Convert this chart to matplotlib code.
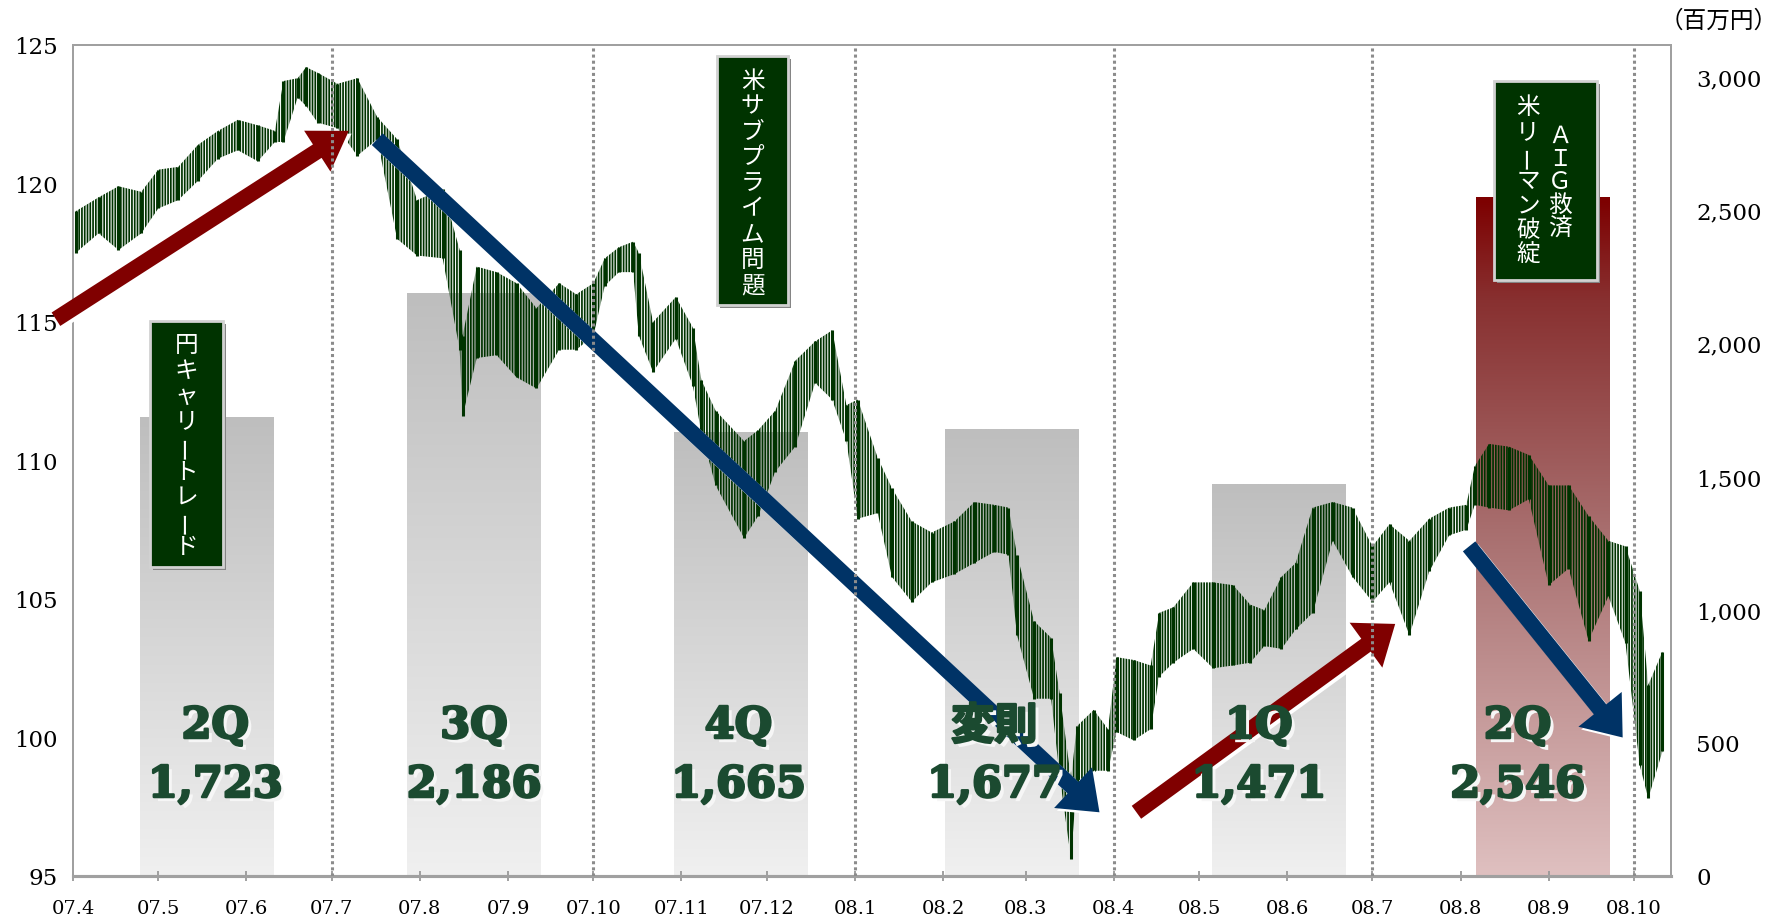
import numpy as np
import pandas as pd
import matplotlib
matplotlib.use("Agg")
import matplotlib.pyplot as plt
import matplotlib.dates as mdates
import matplotlib.patheffects as pe
from matplotlib.colors import LinearSegmentedColormap
from matplotlib.patches import Rectangle
from matplotlib.ticker import FuncFormatter
from matplotlib.transforms import offset_copy, blended_transform_factory

plt.rcParams['font.family'] = ['DejaVu Serif', 'Noto Sans CJK JP']
plt.rcParams['hatch.linewidth'] = 1.25
plt.rcParams['hatch.color'] = '#003300'

# quarterly amounts (百万円), right axis
quarters = ['2Q', '3Q', '4Q', '変則', '1Q', '2Q']
amounts = [1723, 2186, 1665, 1677, 1471, 2546]
amount_labels = ['1,723', '2,186', '1,665', '1,677', '1,471', '2,546']
bar_centers = ['2007-05-18', '2007-08-20', '2007-11-22', '2008-02-25', '2008-05-29', '2008-08-30']
label_centers = ['2007-05-21', '2007-08-20', '2007-11-21', '2008-02-19', '2008-05-22', '2008-08-21']

# weekly price range (left axis)
price_dates = ['2007-04-02', '2007-04-10', '2007-04-17', '2007-04-25', '2007-05-01', '2007-05-08',
               '2007-05-15', '2007-05-22', '2007-05-29', '2007-06-05', '2007-06-11', '2007-06-14',
               '2007-06-19', '2007-06-22', '2007-06-26', '2007-07-03', '2007-07-10', '2007-07-17',
               '2007-07-24', '2007-07-31', '2007-08-09', '2007-08-15', '2007-08-16', '2007-08-21',
               '2007-08-28', '2007-09-04', '2007-09-11', '2007-09-19', '2007-09-25', '2007-10-01',
               '2007-10-05', '2007-10-10', '2007-10-15', '2007-10-17', '2007-10-22', '2007-10-30',
               '2007-11-05', '2007-11-08', '2007-11-13', '2007-11-23', '2007-11-28', '2007-12-04',
               '2007-12-11', '2007-12-18', '2007-12-24', '2007-12-29', '2008-01-02', '2008-01-09',
               '2008-01-14', '2008-01-21', '2008-01-28', '2008-02-05', '2008-02-12', '2008-02-19',
               '2008-02-24', '2008-02-27', '2008-03-04', '2008-03-10', '2008-03-13', '2008-03-17',
               '2008-03-19', '2008-03-25', '2008-03-30', '2008-04-02', '2008-04-08', '2008-04-14',
               '2008-04-17', '2008-04-22', '2008-04-29', '2008-05-06', '2008-05-13', '2008-05-19',
               '2008-05-24', '2008-05-30', '2008-06-04', '2008-06-10', '2008-06-17', '2008-06-24',
               '2008-07-01', '2008-07-07', '2008-07-14', '2008-07-21', '2008-07-28', '2008-08-03',
               '2008-08-06', '2008-08-11', '2008-08-18', '2008-08-25', '2008-09-01', '2008-09-08',
               '2008-09-15', '2008-09-22', '2008-09-28', '2008-10-03', '2008-10-06', '2008-10-11']
price_low = [117.5, 118.2, 117.6, 118.2, 119.1, 119.4, 120.1, 120.9, 121.2, 120.8, 121.5, 121.5,
             123.1, 122.8, 122.2, 122.0, 121.0, 121.6, 118.0, 117.4, 117.3, 114.0, 111.6, 113.7,
             113.8, 113.0, 112.6, 114.0, 114.0, 114.5, 116.3, 116.8, 116.8, 114.5, 113.2, 114.4,
             112.7, 111.0, 109.1, 107.2, 108.0, 109.6, 110.5, 112.8, 112.2, 110.7, 107.9, 108.1,
             105.8, 104.9, 105.6, 105.9, 106.3, 106.7, 106.6, 103.7, 101.4, 101.4, 98.6, 95.6,
             98.4, 98.8, 98.8, 100.2, 99.9, 100.3, 102.2, 102.7, 103.2, 102.5, 102.6, 102.7,
             103.3, 103.2, 103.9, 104.5, 107.1, 105.8, 104.9, 105.6, 103.7, 106.0, 107.3, 107.5,
             108.4, 108.3, 108.2, 108.6, 105.5, 106.1, 103.5, 105.1, 103.4, 99.0, 97.8, 99.5]
price_high = [119.0, 119.5, 119.9, 119.7, 120.5, 120.6, 121.4, 121.9, 122.3, 122.1, 121.9, 123.7,
              123.8, 124.2, 124.0, 123.6, 123.8, 122.4, 121.6, 119.4, 119.8, 117.6, 114.5, 117.0,
              116.8, 116.4, 115.5, 116.4, 116.0, 116.4, 117.3, 117.7, 117.9, 117.5, 115.0, 115.9,
              114.8, 112.9, 111.8, 110.7, 111.1, 111.8, 113.6, 114.3, 114.7, 112.0, 112.2, 110.1,
              109.0, 107.8, 107.4, 107.8, 108.5, 108.4, 108.3, 106.6, 104.2, 103.6, 101.6, 98.5,
              100.4, 101.0, 100.3, 102.9, 102.8, 102.6, 104.5, 104.7, 105.6, 105.6, 105.5, 104.8,
              104.6, 105.8, 106.3, 108.3, 108.5, 108.3, 106.9, 107.7, 107.1, 107.9, 108.3, 108.4,
              109.8, 110.6, 110.5, 110.2, 109.1, 109.1, 108.0, 107.1, 106.9, 105.3, 101.9, 103.1]

quarter_lines = ['2007-07-01', '2007-10-01', '2008-01-01', '2008-04-01', '2008-07-01', '2008-10-01']
month_ticks = pd.date_range('2007-04-01', '2008-10-01', freq='MS')
month_labels = [f"{d:%y}.{d.month}" for d in month_ticks]

GREEN = '#003300'
RED = '#800000'
BLUE = '#003366'
LABEL = '#1b4a30'

fig = plt.figure(figsize=(17.91, 9.2), dpi=100)
ax = fig.add_axes([73 / 1791, 1 - 877 / 920, 1598 / 1791, 831 / 920])
ax2 = ax.twinx()
ax.set_zorder(ax2.get_zorder() + 1)
ax.patch.set_visible(False)

# gradient bars on the right axis
gray_cm = LinearSegmentedColormap.from_list('g', ['#bebebe', '#f0f0f0'])
red_cm = LinearSegmentedColormap.from_list('r', [(0, '#7d0000'), (0.15, '#883030'),
                                                 (0.5, '#a97070'), (1, '#dfc0c0')])
grad = np.linspace(0, 1, 256).reshape(-1, 1)
half = 23.5
for i, (c, v) in enumerate(zip(bar_centers, amounts)):
    xc = mdates.datestr2num(c)
    cm = red_cm if i == len(amounts) - 1 else gray_cm
    ax2.imshow(grad, extent=[xc - half, xc + half, 0, v], aspect='auto', cmap=cm,
               origin='upper', zorder=1, interpolation='bilinear')

# price bars
pd_dates = pd.to_datetime(price_dates)
ax.fill_between(pd_dates, price_low, price_high, facecolor='none', edgecolor=GREEN,
                hatch='||||||', linewidth=0, zorder=3)
ax.vlines(pd_dates, price_low, price_high, color=GREEN, lw=2.2, zorder=3)

# quarter dividers
for q in quarter_lines:
    ax.axvline(pd.Timestamp(q), color='#8c8c8c', lw=2.2, ls=(0, (1, 1)), zorder=6)


def arrow(tail, tip, color, hw, hl):
    ax.annotate('', xy=(mdates.datestr2num(tip[0]), tip[1]),
                xytext=(mdates.datestr2num(tail[0]), tail[1]),
                arrowprops=dict(arrowstyle=f'simple,head_length={hl},head_width={hw},tail_width=11.5',
                                mutation_scale=1, shrinkA=0, shrinkB=0, fc=color, ec='none', lw=0,
                                path_effects=[pe.SimplePatchShadow(offset=(2, -2), shadow_rgbFace='white', alpha=1),
                                              pe.Normal()]),
                annotation_clip=False, zorder=4)


arrow(('2007-03-26', 115.1), ('2007-07-07', 121.9), RED, 35, 27)
arrow(('2007-07-17', 121.6), ('2008-03-27', 97.3), BLUE, 40, 26)
arrow(('2008-04-09', 97.3), ('2008-07-09', 104.1), RED, 40, 26)
arrow(('2008-08-04', 106.9), ('2008-09-27', 100.0), BLUE, 40, 26)

# quarter labels
blend = blended_transform_factory(ax.transData, ax.transAxes)
shadow = [pe.SimplePatchShadow(offset=(3, -3), shadow_rgbFace='#f6f6f6', alpha=1),
          pe.Stroke(linewidth=1.8, foreground=LABEL), pe.Normal()]
for q, a, c in zip(quarters, amount_labels, label_centers):
    x = mdates.datestr2num(c)
    if q == '変則':
        ax.text(x, 0.1805, q, transform=blend, ha='center', va='center', fontsize=31,
                family=['Noto Sans CJK JP'], weight='bold', color=LABEL, path_effects=shadow, zorder=5)
    else:
        ax.text(x, 0.1805, q, transform=blend, ha='center', va='center', fontsize=31,
                weight='bold', color=LABEL, path_effects=shadow, zorder=5)
    ax.text(x, 0.1095, a, transform=blend, ha='center', va='center', fontsize=31,
            weight='bold', color=LABEL, path_effects=shadow, zorder=5)


# event boxes with vertical text (positions in pixels of the axes box)
AX_W, AX_H = 1598, 831


def note_box(x0, y0, x1, y1, columns, size=17):
    fx0, fx1 = (x0 - 73) / AX_W, (x1 - 73) / AX_W
    fy0, fy1 = (877 - y1) / AX_H, (877 - y0) / AX_H
    sh = offset_copy(ax.transAxes, fig=fig, x=3, y=-3, units='dots')
    ax.add_patch(Rectangle((fx0, fy0), fx1 - fx0, fy1 - fy0, transform=sh, fc='#858585',
                           ec='none', zorder=7, clip_on=False))
    ax.add_patch(Rectangle((fx0, fy0), fx1 - fx0, fy1 - fy0, transform=ax.transAxes, fc=GREEN,
                           ec='#d2d2d2', lw=2, zorder=8, clip_on=False))
    for cx, text, first, step in columns:
        for k, ch in enumerate(text):
            py = y0 + first + k * step
            ax.text((cx - 73) / AX_W, (877 - py) / AX_H, ch, transform=ax.transAxes,
                    ha='center', va='center', rotation=90 if ch == 'ー' else 0,
                    rotation_mode='anchor', color='white', fontsize=size,
                    family=['Noto Sans CJK JP'], zorder=9)


note_box(150, 322, 223, 568, [(186.5, '円キャリートレード', 24, 25.2)])
note_box(717, 57, 788, 306, [(752.5, '米サブプライム問題', 24, 25.6)])
note_box(1494, 82, 1597, 281, [(1528, '米リーマン破綻', 25.5, 24.7),
                               (1560, 'ＡＩＧ救済', 54.7, 22.8)])

fig.text(1719 / 1791, 1 - 21 / 920, '（百万円）', ha='center', va='center', fontsize=17,
         family=['Noto Sans CJK JP'])

# axes
ax.set_ylim(95, 125)
ax.set_yticks(range(95, 126, 5))
ax2.set_ylim(0, 3120)
ax2.set_yticks(range(0, 3001, 500))
ax2.yaxis.set_major_formatter(FuncFormatter(lambda v, p: f'{int(v):,}'))
ax.set_xticks(month_ticks)
ax.set_xticklabels(month_labels)
ax.set_xlim(pd.Timestamp('2007-04-01'), pd.Timestamp('2008-10-14'))

ax.tick_params(axis='y', length=0, pad=11, labelsize=16.5)
ax2.tick_params(axis='y', length=0, pad=18, labelsize=16.5)
ax.tick_params(axis='x', direction='inout', length=7, width=1.3, color='#999999', pad=13, labelsize=14)
for a in (ax, ax2):
    for s in a.spines.values():
        s.set_color('#a0a0a0')
        s.set_linewidth(1.3)
    a.spines['bottom'].set_linewidth(2.2)

fig.savefig('out.png', dpi=100)
